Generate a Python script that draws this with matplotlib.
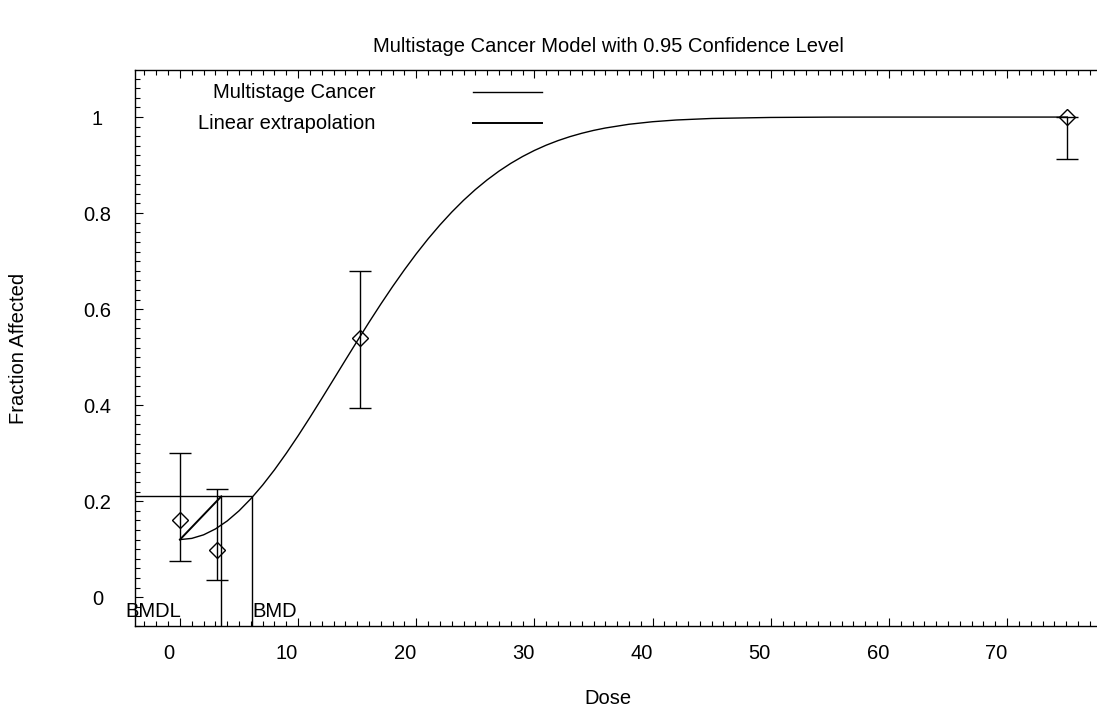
import matplotlib
matplotlib.use("Agg")
from matplotlib import pyplot as plt
from matplotlib import transforms

plt.rcParams["font.family"] = ["Liberation Sans", "DejaVu Sans"]
plt.rcParams["font.size"] = 14.5

# observed dose groups (fraction affected with confidence limits)
doses = [0.0, 3.1, 15.2, 75.1]
fraction_affected = [0.160, 0.098, 0.540, 1.000]
lower_limit = [0.075, 0.035, 0.394, 0.912]
upper_limit = [0.300, 0.225, 0.679, 1.000]

# multistage model curve
curve_dose = [0, 1, 2, 3, 4, 5, 6, 7, 8, 9, 10, 11, 12, 13, 14, 15, 16, 17, 18,
              19, 20, 21, 22, 23, 24, 25, 26, 27, 28, 29, 30, 31, 32, 33, 34,
              35, 36, 38, 40, 42, 45, 50, 55, 60, 75.1]
curve_fraction = [0.120, 0.1225, 0.1299, 0.1421, 0.1588, 0.1799, 0.2050, 0.2336,
                  0.2653, 0.2997, 0.3362, 0.3744, 0.4137, 0.4536, 0.4937, 0.5334,
                  0.5725, 0.6105, 0.6471, 0.6820, 0.7152, 0.7463, 0.7752, 0.8020,
                  0.8266, 0.8490, 0.8692, 0.8874, 0.9036, 0.9179, 0.9305, 0.9415,
                  0.9510, 0.9592, 0.9662, 0.9722, 0.9772, 0.9850, 0.9903, 0.9939,
                  0.9971, 0.9992, 0.9999, 1.000, 1.000]

background = 0.12
bmr_level = 0.21
bmd = 6.1
bmdl = 3.5

x_ticks = [0, 10, 20, 30, 40, 50, 60, 70]
y_ticks = [0, 0.2, 0.4, 0.6, 0.8, 1.0]
y_tick_labels = ["0", "0.2", "0.4", "0.6", "0.8", "1"]

x_min, x_max = -3.8, 78.8
y_min, y_max = -0.06, 1.098

fig = plt.figure(figsize=(10.97, 7.13), dpi=100)
ax = fig.add_axes([0.1231, 0.1220, 0.8897, 0.7798])

# model curve
ax.plot(curve_dose, curve_fraction, color="black", lw=1.0)

# linear extrapolation from background to the BMDL
ax.plot([0, bmdl], [background, bmr_level], color="black", lw=1.4)

# BMD / BMDL guide lines
ax.hlines(bmr_level, x_min, bmd, color="black", lw=1.0)
ax.vlines([bmdl, bmd], y_min, bmr_level, color="black", lw=1.0)

# observed data with error bars
lo = [f - l for f, l in zip(fraction_affected, lower_limit)]
hi = [u - f for f, u in zip(fraction_affected, upper_limit)]
ax.errorbar(doses, fraction_affected, yerr=[lo, hi], fmt="D", mfc="none",
            mec="black", mew=1.0, ms=8.5, ecolor="black", elinewidth=1.0,
            capsize=8, capthick=1.0)

ax.text(-4.6, -0.042, "BMDL", ha="left", va="baseline")
ax.text(bmd, -0.042, "BMD", ha="left", va="baseline")

ax.set_xlim(x_min, x_max)
ax.set_ylim(y_min, y_max)

# legend drawn by hand: text on the left, line sample on the right
ax.text(0.246, 0.9604, "Multistage Cancer", transform=ax.transAxes,
        ha="right", va="center")
ax.text(0.246, 0.9047, "Linear extrapolation", transform=ax.transAxes,
        ha="right", va="center")
ax.plot([0.3463, 0.417], [0.9604, 0.9604], transform=ax.transAxes,
        color="black", lw=1.0)
ax.plot([0.3463, 0.417], [0.9047, 0.9047], transform=ax.transAxes,
        color="black", lw=1.4)

ax.set_xticks(x_ticks)
ax.set_xticks(range(-3, 79), minor=True)
ax.set_yticks(y_ticks)
ax.set_yticklabels(y_tick_labels)
ax.set_yticks([i * 0.02 for i in range(-3, 55)], minor=True)
ax.tick_params(which="both", direction="in", top=True, right=True,
               width=0.8, colors="black")
ax.tick_params(which="major", length=6)
ax.tick_params(which="minor", length=3.5)
ax.tick_params(axis="x", pad=13)
ax.tick_params(axis="y", pad=27)
for lab in ax.get_yticklabels():
    lab.set_horizontalalignment("center")

# x tick labels sit a little left of their ticks
shift = transforms.ScaledTranslation(-11 / 100, 0, fig.dpi_scale_trans)
for lab in ax.get_xticklabels():
    lab.set_transform(lab.get_transform() + shift)

for sp in ax.spines.values():
    sp.set_linewidth(1.0)

ax.set_xlabel("Dose")
ax.xaxis.set_label_coords(0.4846, -0.113)
ax.set_ylabel("Fraction Affected", labelpad=40)
ax.text(0.4846, 1.043, "Multistage Cancer Model with 0.95 Confidence Level",
        transform=ax.transAxes, ha="center", va="center")

fig.savefig("out.png", dpi=100)
